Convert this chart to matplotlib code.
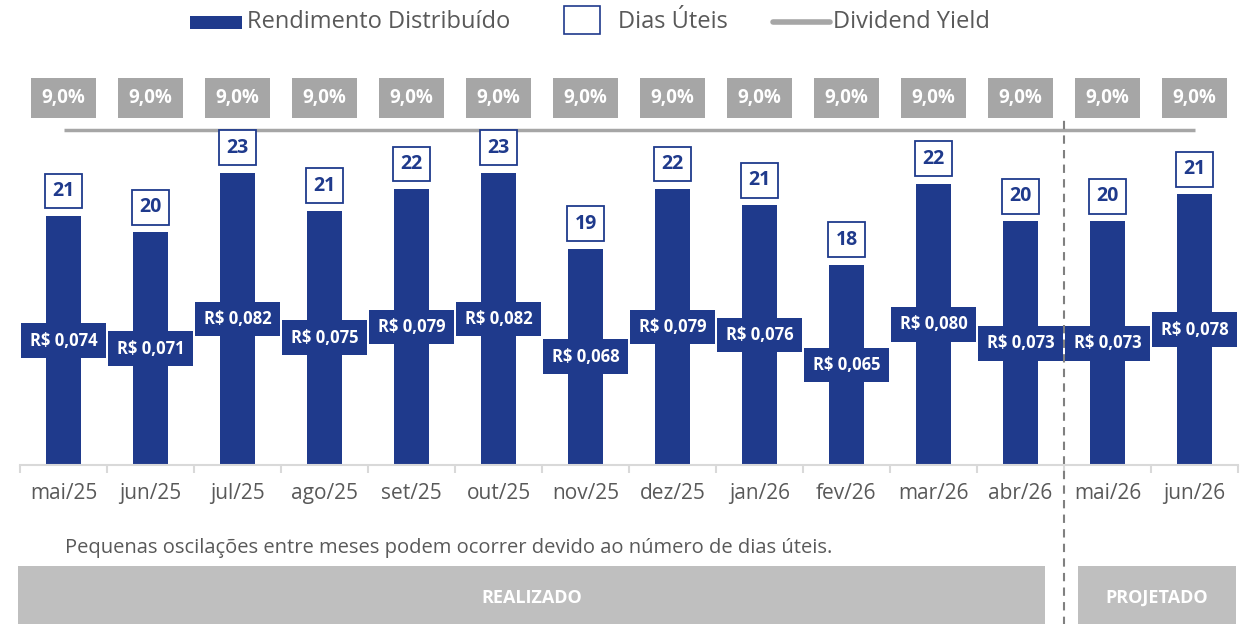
import matplotlib
matplotlib.use('Agg')
import matplotlib.pyplot as plt
from matplotlib.patches import Rectangle
from matplotlib.lines import Line2D

plt.rcParams['font.family'] = ['Open Sans', 'DejaVu Sans']

months = ['mai/25', 'jun/25', 'jul/25', 'ago/25', 'set/25', 'out/25', 'nov/25',
          'dez/25', 'jan/26', 'fev/26', 'mar/26', 'abr/26', 'mai/26', 'jun/26']
rendimento = [0.074, 0.071, 0.082, 0.075, 0.079, 0.082, 0.068,
              0.079, 0.076, 0.065, 0.080, 0.073, 0.073, 0.078]
dias_uteis = [21, 20, 23, 21, 22, 23, 19, 22, 21, 18, 22, 20, 20, 21]
dividend_yield = [9.0] * 14
n_realizado = 12

blue = '#1f3a8c'
grey = '#a6a6a6'
light = '#bfbfbf'
text_grey = '#595959'

W, H = 1243, 624
fig = plt.figure(figsize=(W / 100, H / 100), dpi=100)
# main axes: baseline at y=465px, spans x 20..1238px
ax = fig.add_axes([20 / W, (H - 465) / H, 1218 / W, 465 / H])
x = list(range(len(months)))

ax.bar(x, rendimento, width=0.40, color=blue, zorder=2)
ax.set_xlim(-0.5, len(months) - 0.5)
ax.set_ylim(0.028, 0.028 + 465 / 5412)

for xi, v, d in zip(x, rendimento, dias_uteis):
    ax.text(xi, (v + 0.028) / 2, 'R$ ' + f'{v:.3f}'.replace('.', ','),
            ha='center', va='center', color='white', fontsize=12, fontweight='bold',
            bbox=dict(boxstyle='square,pad=0.5', fc=blue, ec='none'), zorder=3)
    ax.annotate(str(d), (xi, v), xytext=(0, 18), textcoords='offset points',
                ha='center', va='center', color=blue, fontsize=14, fontweight='bold',
                bbox=dict(boxstyle='square,pad=0.38', fc='white', ec=blue, lw=1.3))

# dividend yield on its own scale (drawn behind the main axes)
ax2 = ax.twinx()
ax2.set_ylim(0, 12.49)
ax2.plot(x, dividend_yield, color=grey, lw=2.5, solid_capstyle='butt')
for xi, dy in zip(x, dividend_yield):
    ax2.annotate(f'{dy:.1f}%'.replace('.', ','), (xi, dy), xytext=(0, 23),
                 textcoords='offset points', ha='center', va='center',
                 color='white', fontsize=13.5, fontweight='bold',
                 bbox=dict(boxstyle='square,pad=0.55', fc=grey, ec='none'))
ax2.axis('off')
ax.set_zorder(ax2.get_zorder() + 1)
ax.patch.set_visible(False)

for s in ['top', 'right', 'left']:
    ax.spines[s].set_visible(False)
ax.spines['bottom'].set_color('#d9d9d9')
ax.spines['bottom'].set_linewidth(1.5)
ax.set_yticks([])
ax.set_xticks([i - 0.5 for i in range(len(months) + 1)], minor=True)
ax.set_xticks(x)
ax.set_xticklabels(months, fontsize=15, color=text_grey)
ax.tick_params(axis='x', which='major', length=0, pad=13)
ax.tick_params(axis='x', which='minor', length=6, color='#d9d9d9', width=1.5)

# dashed separator between realized and projected
ax.axvline(n_realizado - 0.5, ymin=-0.345, ymax=0.75, clip_on=False,
           color='#808080', lw=1.5, ls=(0, (4, 3)))

fig.text(65 / W, 1 - 548 / H,
         'Pequenas oscilações entre meses podem ocorrer devido ao número de dias úteis.',
         ha='left', va='center', fontsize=14.5, color=text_grey)

# bottom bands
for x0, x1, label in [(18, 1045, 'REALIZADO'), (1078, 1236, 'PROJETADO')]:
    fig.add_artist(Rectangle((x0 / W, 0), (x1 - x0) / W, 58 / H,
                             transform=fig.transFigure, fc=light, ec='none'))
    fig.text((x0 + x1) / 2 / W, 26 / H, label, ha='center', va='center',
             color='white', fontsize=13, fontweight='bold')

# legend
ly = 1 - 22 / H
fig.add_artist(Rectangle((190 / W, 1 - 29 / H), 52 / W, 13 / H,
                         transform=fig.transFigure, fc=blue, ec='none'))
fig.text(247 / W, ly, 'Rendimento Distribuído', ha='left', va='center',
         fontsize=17, color=text_grey)
fig.add_artist(Rectangle((564 / W, 1 - 34 / H), 36 / W, 28 / H,
                         transform=fig.transFigure, fc='white', ec=blue, lw=1.2))
fig.text(618 / W, ly, 'Dias Úteis', ha='left', va='center',
         fontsize=17, color=text_grey)
fig.add_artist(Line2D([773 / W, 830 / W], [ly, ly], transform=fig.transFigure,
                      color=grey, lw=4, solid_capstyle='round'))
fig.text(833 / W, ly, 'Dividend Yield', ha='left', va='center',
         fontsize=17, color=text_grey)

fig.savefig('out.png', dpi=100)
